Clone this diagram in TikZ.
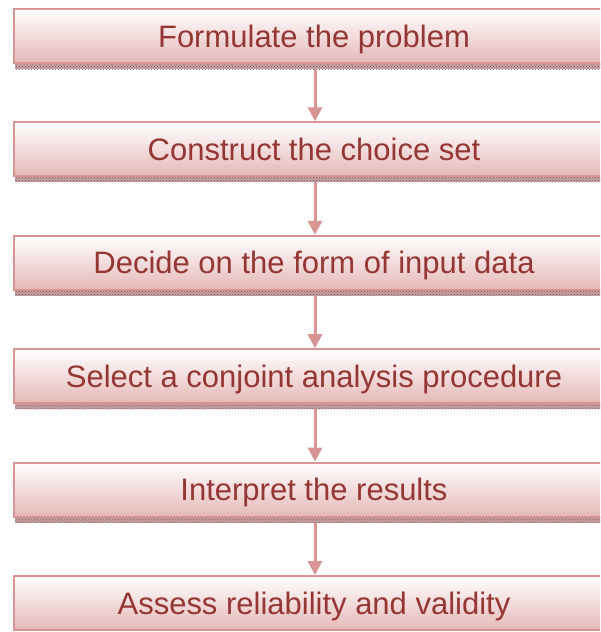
\documentclass[tikz,border=0pt]{standalone}
\usepackage{fontspec}
\setmainfont{Liberation Sans}
\usepackage{tikz}
\usetikzlibrary{arrows.meta, positioning, patterns, shadings}
\definecolor{boxline}{HTML}{D99594}
\definecolor{boxfill}{HTML}{E5B8B7}
\definecolor{boxtext}{HTML}{943634}
\definecolor{stripbase}{HTML}{C4A2A5}
\tikzset{
  stagebox/.style={rectangle, draw=boxline, line width=2pt, top color=white, bottom color=boxfill,
    minimum width=600pt, minimum height=54pt, inner sep=0pt, text=boxtext,
    text height=22pt, text depth=0pt, font=\fontsize{31}{37}\selectfont},
  strip/.style={preaction={fill=stripbase}, pattern=crosshatch dots, pattern color=boxtext!70!gray},
  stagearrow/.style={draw=boxline, line width=3pt, -{Triangle[width=14pt,length=14pt]}}
}
\begin{document}
\begin{tikzpicture}[node distance=57.4pt]
\clip (0,0) rectangle (600pt,-632pt);
\useasboundingbox (0,0) rectangle (600pt,-632pt);

% Stages of the procedure
\node[stagebox] (formulate) at (314pt,-36pt) {Formulate the problem};
\node[stagebox, below=of formulate] (construct) {Construct the choice set};
\node[stagebox, below=of construct] (decide) {Decide on the form of input data};
\node[stagebox, below=of decide] (select) {Select a conjoint analysis procedure};
\node[stagebox, below=of select] (interpret) {Interpret the results};
\node[stagebox, below=of interpret] (assess) {Assess reliability and validity};

% Shadow strips and arrows
\foreach \a/\b in {formulate/construct, construct/decide, decide/select, select/interpret, interpret/assess}{
  \fill[strip] ([xshift=2pt]\a.south west) rectangle ([yshift=-5pt]\a.south east);
  \draw[stagearrow] ([xshift=1pt,yshift=-5pt]\a.south) -- ([xshift=1pt]\b.north);
}
\end{tikzpicture}
\end{document}
